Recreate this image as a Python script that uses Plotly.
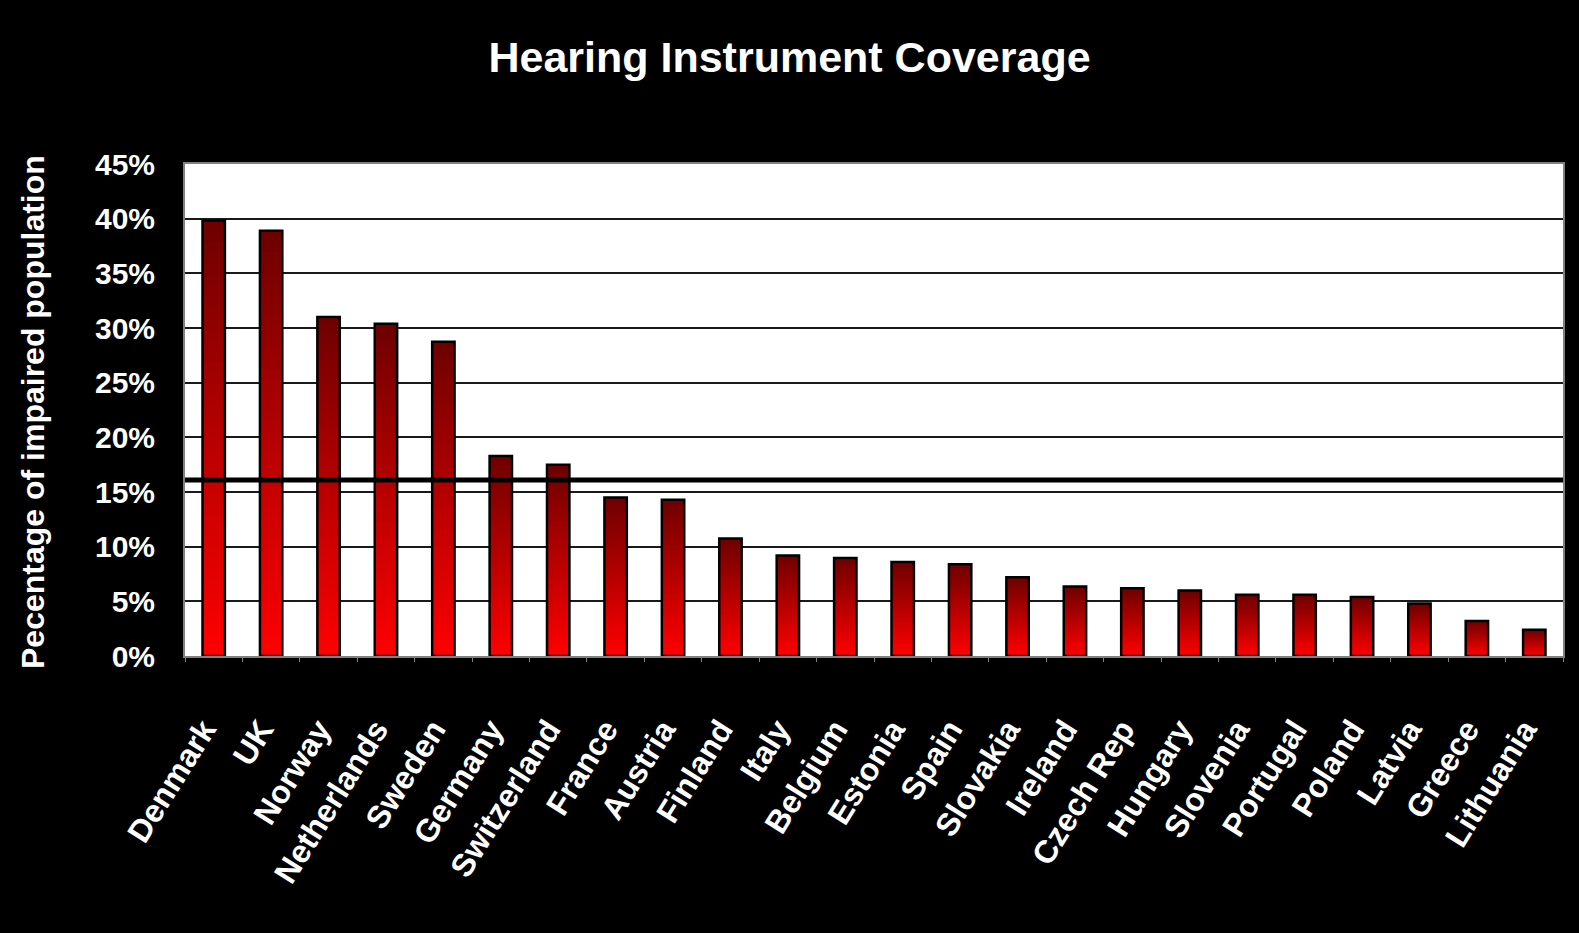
import plotly.graph_objects as go

countries = ["Denmark", "UK", "Norway", "Netherlands", "Sweden", "Germany", "Switzerland",
             "France", "Austria", "Finland", "Italy", "Belgium", "Estonia", "Spain",
             "Slovakia", "Ireland", "Czech Rep", "Hungary", "Slovenia", "Portugal",
             "Poland", "Latvia", "Greece", "Lithuania"]
coverage = [39.8, 38.9, 31.0, 30.4, 28.75, 18.3, 17.5, 14.5, 14.3, 10.75, 9.2, 8.97,
            8.6, 8.4, 7.2, 6.36, 6.2, 6.0, 5.6, 5.6, 5.4, 4.8, 3.2, 2.4]
reference_level = 16.1
y_ticks = [0, 5, 10, 15, 20, 25, 30, 35, 40, 45]

FONT = "Liberation Sans, Arial, sans-serif"
N_SEG = 40
top_rgb = (0x6E, 0x00, 0x00)
bot_rgb = (0xFF, 0x00, 0x00)
BAR_W = 0.39

fig = go.Figure()
# gradient fill: each layer starts higher and reaches the bar top, later layers drawn over earlier
for i in range(N_SEG):
    t = (i + 0.5) / N_SEG
    r = round(bot_rgb[0] + (top_rgb[0] - bot_rgb[0]) * t)
    fig.add_trace(go.Bar(
        x=countries,
        y=[v * (1 - i / N_SEG) for v in coverage],
        base=[v * i / N_SEG for v in coverage],
        width=BAR_W,
        marker=dict(color=f"rgb({r},0,0)", line=dict(width=0)),
        hoverinfo="skip",
        showlegend=False,
    ))

fig.add_trace(go.Bar(
    x=countries,
    y=coverage,
    width=BAR_W,
    marker=dict(color="rgba(0,0,0,0)", line=dict(color="black", width=2.5)),
    showlegend=False,
    hovertemplate="%{x}: %{y:.1f}%<extra></extra>",
))

fig.add_shape(type="line", xref="paper", x0=0, x1=1, yref="y",
              y0=reference_level, y1=reference_level,
              line=dict(color="black", width=5))

fig.update_layout(
    width=1579, height=933,
    paper_bgcolor="black",
    plot_bgcolor="white",
    barmode="overlay",
    margin=dict(l=185, r=16, t=164, b=277, autoexpand=False),
    font=dict(family=FONT, color="white"),
    title=dict(text="<b>Hearing Instrument Coverage</b>", x=0.5, xref="container",
               xanchor="center", y=1 - 57 / 933, yanchor="middle",
               font=dict(size=43, color="white", family=FONT)),
    xaxis=dict(
        tickangle=-58,
        tickfont=dict(size=32, color="white", family=FONT),
        showline=True, linecolor="#808080", linewidth=2, mirror=True,
        ticks="outside", tickson="boundaries", ticklen=4, tickcolor="#808080",
        ticklabelstandoff=40, ticklabelshift=-10,
        showgrid=False,
        range=[-0.5, len(countries) - 0.5],
    ),
    yaxis=dict(
        range=[0, 45],
        tickvals=y_ticks,
        ticktext=[f"<b>{v}%</b>" for v in y_ticks],
        tickfont=dict(size=30, color="white", family=FONT),
        showgrid=True, gridcolor="#1a1a1a", gridwidth=1.5,
        showline=True, linecolor="#808080", linewidth=2, mirror=True,
        ticks="", ticklabelstandoff=22,
        zeroline=False,
    ),
)
fig.update_xaxes(ticktext=[f"<b>{c}</b>" for c in countries], tickvals=countries)

fig.add_annotation(
    text="<b>Pecentage of impaired population</b>",
    xref="paper", yref="paper",
    x=(33 - 185) / 1378, y=(656 - 412) / 492,
    xanchor="center", yanchor="middle",
    textangle=-90, showarrow=False,
    font=dict(size=32, color="white", family=FONT),
)

fig.write_html("out.html")
